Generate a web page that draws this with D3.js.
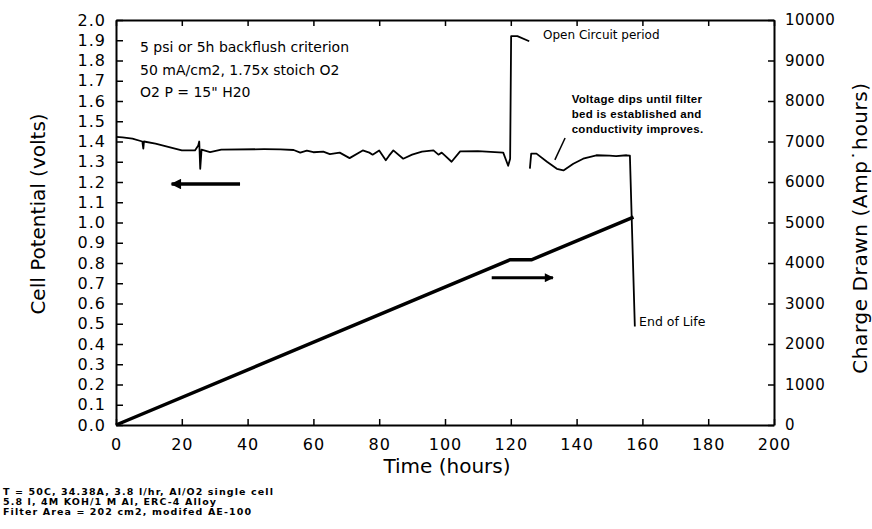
<!DOCTYPE html>
<html>
<head>
<meta charset="utf-8">
<script src="https://cdn.jsdelivr.net/npm/d3@7/dist/d3.min.js"></script>
<style>
    body { margin: 0; background: #fff; }
    svg text { font-family: "DejaVu Sans", sans-serif; fill: #000; }
</style>
</head>
<body>
<div id="chart"></div>
<script>
// ========== data ==========
// cell potential (left axis), null = gap in the trace
var timeHours = [0, 2, 5, 8, 8.3, 8.5, 12, 20, 24, 25, 25.3, 25.6, 26, 28.6, 32, 45, 50, 54, 56, 58, 60, 63, 65, 68, 71, 75, 77, 78, 80, 82, 83, 84.3, 87.3, 90, 93, 96.5, 98, 99, 100, 102, 104.6, 110, 117.7, 119.2, 119.8, 120.1, 122, 125.6,
                 125.7,
                 125.8, 126.2, 127.8, 131, 134, 136, 139, 142, 146, 150, 152, 155.2, 156.2, 157.7];
var cellVolts = [1.423, 1.42, 1.414, 1.40, 1.365, 1.40, 1.39, 1.356, 1.356, 1.38, 1.40, 1.265, 1.36, 1.348, 1.36, 1.362, 1.361, 1.358, 1.345, 1.355, 1.347, 1.35, 1.338, 1.345, 1.318, 1.356, 1.345, 1.335, 1.356, 1.307, 1.33, 1.356, 1.315, 1.335, 1.35, 1.356, 1.335, 1.345, 1.33, 1.30, 1.351, 1.352, 1.345, 1.28, 1.315, 1.92, 1.92, 1.895,
                 null,
                 1.266, 1.34, 1.34, 1.30, 1.265, 1.257, 1.29, 1.315, 1.332, 1.33, 1.328, 1.332, 1.33, 0.486];

// charge drawn (right axis)
var chargeTime = [0, 119.8, 126.3, 157.3];
var chargeAh = [0, 4080, 4080, 5130];

// tick labels
var timeTicks = [0, 20, 40, 60, 80, 100, 120, 140, 160, 180, 200];
var voltTicks = [0.0, 0.1, 0.2, 0.3, 0.4, 0.5, 0.6, 0.7, 0.8, 0.9, 1.0, 1.1, 1.2, 1.3, 1.4, 1.5, 1.6, 1.7, 1.8, 1.9, 2.0];
var chargeTicks = [0, 1000, 2000, 3000, 4000, 5000, 6000, 7000, 8000, 9000, 10000];

// notes
var criteriaLines = ['5 psi or 5h backflush criterion', '50 mA/cm2, 1.75x stoich O2', 'O2 P = 15" H20'];
var dipLines = ['Voltage dips until filter', 'bed is established and', 'conductivity improves.'];
var footLines = ['T = 50C, 34.38A, 3.8 l/hr, Al/O2 single cell', '5.8 l, 4M KOH/1 M Al, ERC-4 Alloy', 'Filter Area = 202 cm2, modifed AE-100'];

// ========== layout ==========
var width = 872, height = 529;
var plotLeft = 116, plotRight = 774, plotTop = 20, plotBottom = 425;

var svg = d3.select('#chart').append('svg')
    .attr('width', width)
    .attr('height', height);

var x = d3.scaleLinear().domain([0, 200]).range([plotLeft, plotRight]);
var yV = d3.scaleLinear().domain([0, 2]).range([plotBottom, plotTop]);
var yQ = d3.scaleLinear().domain([0, 10000]).range([plotBottom, plotTop]);

// arrow head
svg.append('defs').append('marker')
    .attr('id', 'head')
    .attr('viewBox', '0 0 10 10')
    .attr('refX', 9).attr('refY', 5)
    .attr('markerWidth', 4.5).attr('markerHeight', 3)
    .attr('markerUnits', 'strokeWidth')
    .attr('orient', 'auto')
    .append('path')
    .attr('d', 'M0,0 L10,5 L0,10 Z')
    .attr('fill', '#000');

// ========== axes ==========
function styleAxis(g, size) {
    g.select('.domain').attr('stroke', '#000').attr('stroke-width', 2);
    g.selectAll('.tick line').attr('stroke', '#000').attr('stroke-width', 1.5);
    g.selectAll('.tick text').style('font-size', size + 'px').style('letter-spacing', '1px');
}

var gx = svg.append('g')
    .attr('transform', 'translate(0,' + plotBottom + ')')
    .call(d3.axisBottom(x).tickValues(timeTicks).tickSizeInner(-6).tickSizeOuter(0).tickPadding(14));
styleAxis(gx, 16);

var gTop = svg.append('g')
    .attr('transform', 'translate(0,' + plotTop + ')')
    .call(d3.axisTop(x).tickValues(timeTicks).tickSizeInner(-6).tickSizeOuter(0).tickFormat(''));
styleAxis(gTop, 16);

var gl = svg.append('g')
    .attr('transform', 'translate(' + plotLeft + ',0)')
    .call(d3.axisLeft(yV).tickValues(voltTicks).tickSizeInner(-7).tickSizeOuter(0).tickPadding(10).tickFormat(d3.format('.1f')));
styleAxis(gl, 16);

var gr = svg.append('g')
    .attr('transform', 'translate(' + plotRight + ',0)')
    .call(d3.axisRight(yQ).tickValues(chargeTicks).tickSizeInner(-6).tickSizeOuter(0).tickPadding(11).tickFormat(d3.format('d')));
styleAxis(gr, 15);
gr.selectAll('.tick text').style('letter-spacing', '0.5px');

// axis titles
svg.append('text')
    .attr('x', 447)
    .attr('y', 473)
    .attr('text-anchor', 'middle')
    .style('font-size', '20px')
    .text('Time (hours)');

svg.append('text')
    .attr('transform', 'translate(45,214) rotate(-90)')
    .attr('text-anchor', 'middle')
    .style('font-size', '20px')
    .text('Cell Potential (volts)');

svg.append('text')
    .attr('transform', 'translate(867,228) rotate(-90)')
    .attr('text-anchor', 'middle')
    .style('font-size', '20px')
    .style('letter-spacing', '0.6px')
    .text('Charge Drawn (Amp\u02d9hours)');

// ========== series ==========
var voltLine = d3.line()
    .defined(function(d) { return d[1] !== null; })
    .x(function(d) { return x(d[0]); })
    .y(function(d) { return yV(d[1]); });

svg.append('path')
    .datum(d3.zip(timeHours, cellVolts))
    .attr('d', voltLine)
    .attr('fill', 'none')
    .attr('stroke', '#000')
    .attr('stroke-width', 1.8)
    .attr('stroke-linejoin', 'round');

var chargeLine = d3.line()
    .x(function(d) { return x(d[0]); })
    .y(function(d) { return yQ(d[1]); });

svg.append('path')
    .datum(d3.zip(chargeTime, chargeAh))
    .attr('d', chargeLine)
    .attr('fill', 'none')
    .attr('stroke', '#000')
    .attr('stroke-width', 3.5);

// ========== arrows & notes ==========
svg.append('line')
    .attr('x1', x(37.7)).attr('y1', yV(1.19))
    .attr('x2', x(16.9)).attr('y2', yV(1.19))
    .attr('stroke', '#000').attr('stroke-width', 3.5)
    .attr('marker-end', 'url(#head)');

svg.append('line')
    .attr('x1', x(114.2)).attr('y1', yQ(3637))
    .attr('x2', x(132.8)).attr('y2', yQ(3637))
    .attr('stroke', '#000').attr('stroke-width', 3)
    .attr('marker-end', 'url(#head)');

svg.append('line')
    .attr('x1', x(136.5)).attr('y1', yV(1.417))
    .attr('x2', x(133.4)).attr('y2', yV(1.309))
    .attr('stroke', '#000').attr('stroke-width', 1.5);

svg.selectAll('.crit')
    .data(criteriaLines)
    .enter()
    .append('text')
    .attr('class', 'crit')
    .attr('x', x(7.3))
    .attr('y', function(d, i) { return yV(1.84) + i * 22.5; })
    .style('font-size', '14px')
    .text(function(d) { return d; });

svg.append('text')
    .attr('x', x(129.8))
    .attr('y', yV(1.906))
    .style('font-size', '12px')
    .text('Open Circuit period');

svg.selectAll('.dip')
    .data(dipLines)
    .enter()
    .append('text')
    .attr('class', 'dip')
    .attr('x', x(138.5))
    .attr('y', function(d, i) { return yV(1.59) + i * 15; })
    .style('font-family', '"Liberation Sans", sans-serif')
    .style('font-weight', 'bold')
    .style('font-size', '11.5px')
    .style('letter-spacing', '0.3px')
    .text(function(d) { return d; });

svg.append('text')
    .attr('x', x(159))
    .attr('y', yV(0.489))
    .style('font-size', '12.5px')
    .text('End of Life');

svg.selectAll('.foot')
    .data(footLines)
    .enter()
    .append('text')
    .attr('class', 'foot')
    .attr('x', 3)
    .attr('y', function(d, i) { return 495 + i * 10; })
    .style('font-weight', 'bold')
    .style('font-size', '9.5px')
    .style('letter-spacing', '1.1px')
    .text(function(d) { return d; });
</script>
</body>
</html>
